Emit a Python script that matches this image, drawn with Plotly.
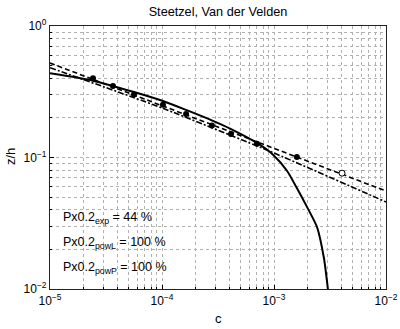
import plotly.graph_objects as go

# measured points (filled) and open point
c_obs = [2.42e-5, 3.65e-5, 5.62e-5, 1.02e-4, 1.64e-4, 2.79e-4, 4.13e-4, 7.05e-4, 1.60e-3]
z_obs = [0.400, 0.350, 0.302, 0.252, 0.214, 0.175, 0.151, 0.127, 0.101]
c_open = [4.05e-3]
z_open = [0.076]

# exponential profile (solid)
c_exp = [1e-5, 2.42e-5, 5.62e-5, 1.02e-4, 1.64e-4, 2.85e-4, 4.05e-4, 7.05e-4, 9.8e-4,
         1.31e-3, 1.60e-3, 1.97e-3, 2.42e-3, 2.79e-3, 3.03e-3]
z_exp = [0.437, 0.384, 0.315, 0.269, 0.230, 0.190, 0.166, 0.129, 0.105,
         0.0790, 0.0586, 0.0421, 0.0296, 0.0172, 0.0100]

# power law L (dashed)
c_powL = [1e-5, 1e-4, 1e-3, 1e-2]
z_powL = [0.523, 0.248, 0.1175, 0.0556]

# power law P (dash-dot)
c_powP = [1e-5, 1e-4, 1e-3, 1e-2]
z_powP = [0.482, 0.238, 0.1082, 0.0459]

x_tickvals = [1e-5, 1e-4, 1e-3, 1e-2]
x_ticktext = ["10<sup>−5</sup>", "10<sup>−4</sup>", "10<sup>−3</sup>", "10<sup>−2</sup>"]
y_tickvals = [1e-2, 1e-1, 1]
y_ticktext = ["10<sup>−2</sup>", "10<sup>−1</sup>", "10<sup>0</sup>"]

labels = ["Px0.2<sub>exp</sub> = 44 %",
          "Px0.2<sub>powL</sub> = 100 %",
          "Px0.2<sub>powP</sub> = 100 %"]
label_y = [0.270, 0.175, 0.080]

FONT = "Liberation Sans, Arial, Helvetica, sans-serif"

fig = go.Figure()
fig.add_trace(go.Scatter(x=c_exp, y=z_exp, mode="lines",
                         line=dict(color="black", width=2, shape="spline", smoothing=0.6),
                         showlegend=False))
fig.add_trace(go.Scatter(x=c_powL, y=z_powL, mode="lines",
                         line=dict(color="black", width=1.6, dash="5px,3px"), showlegend=False))
fig.add_trace(go.Scatter(x=c_powP, y=z_powP, mode="lines",
                         line=dict(color="black", width=1.6, dash="6px,2px,2px,2px",
                                   shape="spline", smoothing=0.6),
                         showlegend=False))
fig.add_trace(go.Scatter(x=c_obs, y=z_obs, mode="markers",
                         marker=dict(color="black", size=6), showlegend=False))
fig.add_trace(go.Scatter(x=c_open, y=z_open, mode="markers",
                         marker=dict(color="white", size=6, line=dict(color="black", width=1)),
                         showlegend=False))

for t, yy in zip(labels, label_y):
    fig.add_annotation(x=0.033, y=yy, xref="paper", yref="paper", text=t,
                       showarrow=False, xanchor="left", yanchor="middle",
                       font=dict(family=FONT, size=12.5, color="black"))

# axis titles as annotations (positions relative to the plot area)
fig.add_annotation(x=0.5, y=(289 - 318)/263, xref="paper", yref="paper",
                   xanchor="center", yanchor="middle", text="c", showarrow=False,
                   font=dict(family=FONT, size=13, color="black"))
fig.add_annotation(x=-40/336, y=(289 - 157)/263, xref="paper", yref="paper",
                   xanchor="center", yanchor="middle", text="z/h", textangle=-90,
                   showarrow=False, font=dict(family=FONT, size=13, color="black"))

grid = dict(showgrid=True, gridcolor="#b0b0b0", griddash="dot", gridwidth=1)
common = dict(type="log", showline=True, linecolor="#222222", linewidth=1.3, mirror=True,
              ticks="inside", ticklen=4, tickcolor="black", zeroline=False, automargin=False,
              tickfont=dict(family=FONT, size=12, color="black"),
              minor=dict(dtick="D1", ticks="inside", ticklen=2, tickcolor="black", **grid),
              **grid)

fig.update_xaxes(range=[-5, -2], tickvals=x_tickvals, ticktext=x_ticktext, **common)
fig.update_yaxes(range=[-2, 0], tickvals=y_tickvals, ticktext=y_ticktext, **common)

fig.update_layout(
    width=400, height=329,
    margin=dict(l=50, r=14, t=26, b=40, autoexpand=False),
    paper_bgcolor="white", plot_bgcolor="white",
    title=dict(text="Steetzel, Van der Velden", x=218/400, xanchor="center",
               y=1 - 12/329, yanchor="middle", yref="container",
               font=dict(family=FONT, size=12.7, color="black")),
)

fig.write_html("out.html")
